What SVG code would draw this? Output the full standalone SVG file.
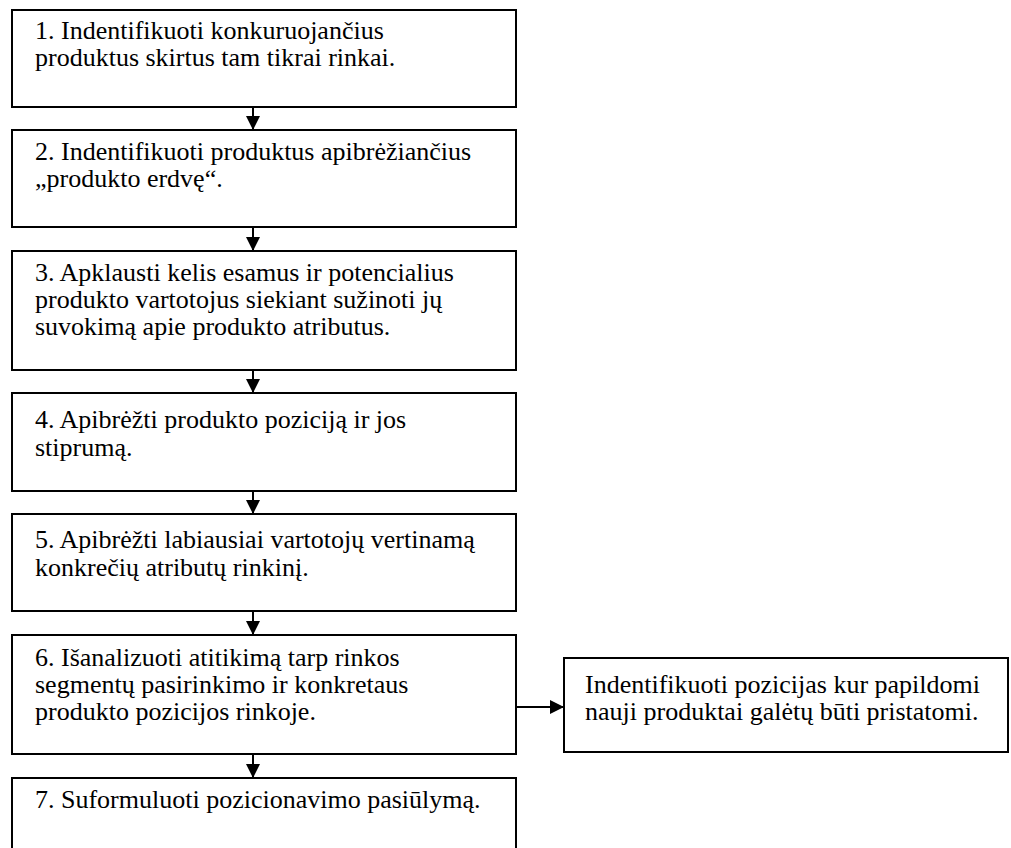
<svg xmlns="http://www.w3.org/2000/svg" width="1011" height="848" viewBox="0 0 1011 848">
  <style>
    .box { fill: #ffffff; stroke: #000000; stroke-width: 2; }
    .label { font-family: "Liberation Serif", "Times New Roman", serif; font-size: 26px; fill: #000000; }
    .link { stroke: #000000; stroke-width: 2; fill: none; }
    .head { fill: #000000; }
  </style>
  <defs>
    <marker id="arrow" viewBox="0 0 14 14" refX="14" refY="7" markerWidth="14" markerHeight="14" markerUnits="userSpaceOnUse" orient="auto">
      <path class="head" d="M0,0 L14,7 L0,14 Z"/>
    </marker>
  </defs>
  <rect width="1011" height="848" fill="#ffffff"/>

  <g id="step1">
    <rect class="box" x="12" y="10" width="504" height="97"/>
    <text class="label" x="35" y="39">1. Indentifikuoti konkuruojančius</text>
    <text class="label" x="35" y="66">produktus skirtus tam tikrai rinkai.</text>
  </g>

  <g id="step2">
    <rect class="box" x="12" y="130" width="504" height="97"/>
    <text class="label" x="35" y="160">2. Indentifikuoti produktus apibrėžiančius</text>
    <text class="label" x="35" y="187">„produkto erdvę“.</text>
  </g>

  <g id="step3">
    <rect class="box" x="12" y="251" width="504" height="119"/>
    <text class="label" x="35" y="281">3. Apklausti kelis esamus ir potencialius</text>
    <text class="label" x="35" y="308">produkto vartotojus siekiant sužinoti jų</text>
    <text class="label" x="35" y="335">suvokimą apie produkto atributus.</text>
  </g>

  <g id="step4">
    <rect class="box" x="12" y="393" width="504" height="98"/>
    <text class="label" x="35" y="428">4. Apibrėžti produkto poziciją ir jos</text>
    <text class="label" x="35" y="456">stiprumą.</text>
  </g>

  <g id="step5">
    <rect class="box" x="12" y="514" width="504" height="97"/>
    <text class="label" x="35" y="548">5. Apibrėžti labiausiai vartotojų vertinamą</text>
    <text class="label" x="35" y="576">konkrečių atributų rinkinį.</text>
  </g>

  <g id="step6">
    <rect class="box" x="12" y="635" width="504" height="119"/>
    <text class="label" x="35" y="666">6. Išanalizuoti atitikimą tarp rinkos</text>
    <text class="label" x="35" y="693">segmentų pasirinkimo ir konkretaus</text>
    <text class="label" x="35" y="720">produkto pozicijos rinkoje.</text>
  </g>

  <g id="step7">
    <rect class="box" x="12" y="778" width="504" height="90"/>
    <text class="label" x="35" y="808">7. Suformuluoti pozicionavimo pasiūlymą.</text>
  </g>

  <g id="new-positions">
    <rect class="box" x="564" y="658" width="444" height="94"/>
    <text class="label" x="585" y="693">Indentifikuoti pozicijas kur papildomi</text>
    <text class="label" x="585" y="720">nauji produktai galėtų būti pristatomi.</text>
  </g>

  <g id="connectors">
    <line class="link" x1="253" y1="107" x2="253" y2="130" marker-end="url(#arrow)"/>
    <line class="link" x1="253" y1="227" x2="253" y2="251" marker-end="url(#arrow)"/>
    <line class="link" x1="253" y1="370" x2="253" y2="393" marker-end="url(#arrow)"/>
    <line class="link" x1="253" y1="491" x2="253" y2="514" marker-end="url(#arrow)"/>
    <line class="link" x1="253" y1="611" x2="253" y2="635" marker-end="url(#arrow)"/>
    <line class="link" x1="253" y1="754" x2="253" y2="778" marker-end="url(#arrow)"/>
    <line class="link" x1="516" y1="707" x2="564" y2="707" marker-end="url(#arrow)"/>
  </g>
</svg>
